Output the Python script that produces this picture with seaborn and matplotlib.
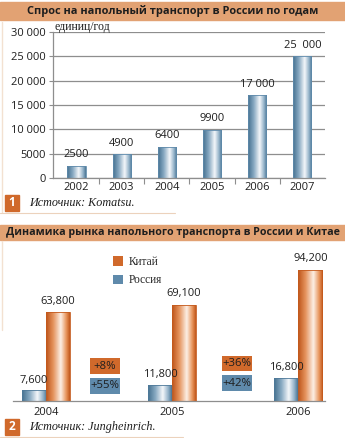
import numpy as np
import pandas as pd
import matplotlib
matplotlib.use("Agg")
import matplotlib.pyplot as plt
import seaborn as sns
from matplotlib.colors import LinearSegmentedColormap
from matplotlib.patches import Rectangle, Patch
from matplotlib.lines import Line2D

# ---- data ----
demand_years = ["2002", "2003", "2004", "2005", "2006", "2007"]
demand_units = [2500, 4900, 6400, 9900, 17000, 25000]
demand_labels = ["2500", "4900", "6400", "9900", "17 000", "25  000"]
demand_yticks = [0, 5000, 10000, 15000, 20000, 25000, 30000]
demand_yticklabels = ["0", "5000", "10 000", "15 000", "20 000", "25 000", "30 000"]

market_years = ["2004", "2005", "2006"]
china_units = [63800, 69100, 94200]
russia_units = [7600, 11800, 16800]
china_labels = ["63,800", "69,100", "94,200"]
russia_labels = ["7,600", "11,800", "16,800"]
china_growth = ["+8%", "+36%"]
russia_growth = ["+55%", "+42%"]

W, H = 345, 438
BAND = "#e2a273"
ORANGE = "#d0692b"
BLUE = "#5f8aab"
GRID = "#8e8e8e"
TXT = "#1e1e1e"

sns.set_theme(style="white")
plt.rcParams["font.family"] = ["Open Sans", "DejaVu Sans"]
SERIF = ["Liberation Serif", "DejaVu Serif"]

fig = plt.figure(figsize=(W / 100, H / 100), dpi=100)
fig.patch.set_facecolor("white")


def fy(py):
    return 1 - py / H


def axes_px(left, top, right, bottom):
    return fig.add_axes([left / W, 1 - bottom / H, (right - left) / W, (bottom - top) / H])


def cylinder(ax, patches, stops):
    cmap = LinearSegmentedColormap.from_list("cyl", stops)
    grad = np.linspace(0, 1, 128).reshape(1, -1)
    for p in patches:
        x0, y0, w, h = p.get_x(), p.get_y(), p.get_width(), p.get_height()
        im = ax.imshow(grad, extent=[x0, x0 + w, y0, y0 + h], cmap=cmap,
                       aspect="auto", origin="lower", zorder=2, interpolation="bilinear")
        im.set_clip_path(p)
        p.set_facecolor("none")
        p.set_zorder(3)


blue_stops = [(0, "#44708f"), (0.3, "#86a8c1"), (0.62, "#f4f7fa"), (0.85, "#93b2c9"), (1, "#4a7594")]
orange_stops = [(0, "#bd5318"), (0.3, "#e5935d"), (0.62, "#fcefe5"), (0.85, "#e8955c"), (1, "#c1571b")]


def band(top, bottom, text, size):
    fig.patches.append(Rectangle((0, fy(bottom)), 1, (bottom - top) / H,
                                 transform=fig.transFigure, color=BAND, zorder=0))
    fig.text(0.5, fy((top + bottom) / 2), text, ha="center", va="center",
             fontsize=size, fontweight="bold", color=TXT)


def source(y, num, text, line_right):
    fig.patches.append(Rectangle((5 / W, fy(y + 8)), 14 / W, 16 / H,
                                 transform=fig.transFigure, color=ORANGE, zorder=0))
    fig.text(12 / W, fy(y), num, ha="center", va="center", color="white",
             fontsize=8.5, fontweight="bold")
    fig.text(29 / W, fy(y), text, ha="left", va="center", family=SERIF,
             style="italic", fontsize=8.7, color=TXT)
    fig.lines.append(Line2D([0, line_right / W], [fy(y + 10), fy(y + 10)],
                            transform=fig.transFigure, color="#ecd2bc", lw=0.8))


# ---- panel 1: demand in Russia by year ----
band(2, 20, "Спрос на напольный транспорт в России по годам", 7.9)
fig.lines.append(Line2D([1.5 / W, 1.5 / W], [fy(22), fy(212)], transform=fig.transFigure,
                        color="#f3e1d1", lw=1))

ax1 = axes_px(53, 32, 325, 178)
sns.barplot(x=demand_years, y=demand_units, color=BLUE, width=0.4, ax=ax1,
            edgecolor="#5f8aab", linewidth=0.6)
cylinder(ax1, ax1.patches, blue_stops)
ax1.bar_label(ax1.containers[0], labels=demand_labels, padding=4, fontsize=8, color=TXT)
ax1.set_xlim(-0.52, 5.5)
ax1.set_ylim(0, 30000)
ax1.set_yticks(demand_yticks, demand_yticklabels)
ax1.yaxis.grid(True, color=GRID, lw=0.9)
ax1.set_axisbelow(True)
for s in ["top", "right"]:
    ax1.spines[s].set_visible(False)
for s in ["left", "bottom"]:
    ax1.spines[s].set_color(GRID)
    ax1.spines[s].set_linewidth(0.9)
ax1.tick_params(axis="y", length=3, width=0.8, color=GRID, labelsize=8, labelcolor=TXT, pad=2, left=True)
ax1.tick_params(axis="x", which="major", length=0, labelsize=8, labelcolor=TXT, pad=3)
ax1.set_xticks(np.arange(0.5, 5.5, 1), minor=True)
ax1.tick_params(axis="x", which="minor", length=4, width=0.8, color=GRID, bottom=True)
ax1.set_xlabel("")
ax1.set_ylabel("")
ax1.text(-0.48, 30350, "единиц/год", family=SERIF, fontsize=8.5, color=TXT, va="baseline")

source(203, "1", "Источник: Komatsu.", 175)

# ---- panel 2: market dynamics Russia vs China ----
band(225, 240, "Динамика рынка напольного транспорта в России и Китае", 7.7)
fig.lines.append(Line2D([1.5 / W, 1.5 / W], [fy(241), fy(330)], transform=fig.transFigure,
                        color="#f3e1d1", lw=1))

market = pd.DataFrame({
    "year": market_years * 2,
    "country": ["Россия"] * 3 + ["Китай"] * 3,
    "units": russia_units + china_units,
})
ax2 = axes_px(13, 245, 325, 401)
sns.barplot(data=market, x="year", y="units", hue="country", hue_order=["Россия", "Китай"],
            palette=[BLUE, ORANGE], width=0.38, dodge=True, ax=ax2, legend=False,
            edgecolor="none")
ru_bars, cn_bars = ax2.containers[0], ax2.containers[1]
cylinder(ax2, list(ru_bars), blue_stops)
cylinder(ax2, list(cn_bars), orange_stops)
for p in ru_bars:
    p.set_edgecolor("#4f7a9a"); p.set_linewidth(0.6)
for p in cn_bars:
    p.set_edgecolor("#c45a1d"); p.set_linewidth(0.6)
ax2.bar_label(ru_bars, labels=russia_labels, padding=3, fontsize=8, color=TXT)
ax2.bar_label(cn_bars, labels=china_labels, padding=4, fontsize=8, color=TXT)
ax2.set_xlim(-0.26, 2.21)
ax2.set_ylim(0, 112000)
ax2.set_yticks([])
for s in ["top", "right", "left"]:
    ax2.spines[s].set_visible(False)
ax2.spines["bottom"].set_color(GRID)
ax2.spines["bottom"].set_linewidth(0.9)
ax2.tick_params(axis="x", length=0, labelsize=8, labelcolor=TXT, pad=4)
ax2.set_xlabel("")
ax2.set_ylabel("")

# growth boxes between years (fixed-size tags)
growth_x = [0.466, 1.51]
china_box_y = [25100, 26900]
russia_box_y = [10800, 12900]
box_w, box_h = 0.237, 11400
for gx, cy, ry, cg, rg in zip(growth_x, china_box_y, russia_box_y, china_growth, russia_growth):
    for yy, label, col in ((cy, cg, ORANGE), (ry, rg, BLUE)):
        ax2.add_patch(Rectangle((gx - box_w / 2, yy - box_h / 2), box_w, box_h,
                                facecolor=col, edgecolor="none", zorder=4))
        ax2.text(gx, yy, label, ha="center", va="center", fontsize=8.2, color=TXT, zorder=5)

ax2.legend(handles=[Patch(facecolor=ORANGE, edgecolor="none"), Patch(facecolor=BLUE, edgecolor="none")],
           labels=["Китай", "Россия"], loc="upper left", bbox_to_anchor=(105 / W, fy(248)),
           bbox_transform=fig.transFigure, frameon=False, handlelength=0.9, handleheight=0.9,
           handletextpad=0.5, labelspacing=0.55, borderpad=0.2,
           prop={"family": SERIF, "size": 8.3})

source(427, "2", "Источник: Jungheinrich.", 183)

fig.savefig("out.png", dpi=100)
